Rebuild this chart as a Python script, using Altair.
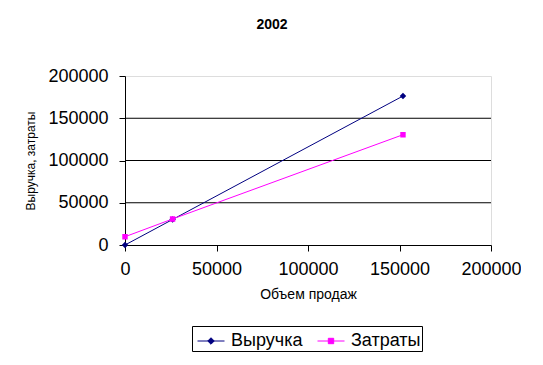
import altair as alt
import pandas as pd

series_names = ["Выручка", "Затраты"]
volume = [0, 26000, 151900]
revenue = [0, 30200, 176300]
costs = [9800, 30800, 130500]
grid_values = [50000, 100000, 150000]
axis_ticks = [0, 50000, 100000, 150000, 200000]

rows = []
for xv, yv in zip(volume, revenue):
    rows.append({"x": xv, "y": yv, "s": series_names[0]})
for xv, yv in zip(volume, costs):
    rows.append({"x": xv, "y": yv, "s": series_names[1]})
df = pd.DataFrame(rows)
grid_df = pd.DataFrame({"g": grid_values})

FONT = "Liberation Sans"
colors = ["#000080", "#FF00FF"]
# legend/marker symbols: a line segment (only visible where stroked) plus a filled marker
shapes = [
    "M-1,0H1M0,-0.24L0.24,0L0,0.24L-0.24,0Z",
    "M-1,0H1M-0.2,-0.2H0.2V0.2H-0.2Z",
]

xenc = alt.X("x:Q", scale=alt.Scale(domain=[0, 200000], nice=False),
             axis=alt.Axis(values=axis_ticks, title="Объем продаж", grid=False,
                           labelFontSize=18, titleFontSize=14, titleFontWeight="normal",
                           labelPadding=9, titlePadding=9, tickSize=6,
                           domainColor="black", tickColor="black", labelColor="black",
                           titleColor="black", labelFont=FONT, titleFont=FONT,
                           labelFlush=False, format="d"))
yenc = alt.Y("y:Q", scale=alt.Scale(domain=[0, 200000], nice=False),
             axis=alt.Axis(values=axis_ticks, title="Выручка, затраты", grid=False,
                           labelFontSize=18, titleFontSize=12, titleFontWeight="normal",
                           labelPadding=11, titlePadding=10, tickSize=6,
                           domainColor="black", tickColor="black", labelColor="black",
                           titleColor="black", labelFont=FONT, titleFont=FONT,
                           labelFlush=False, format="d"))

legend = alt.Legend(title=None, orient="none", legendX=67, legendY=250,
                    direction="horizontal", strokeColor="black", padding=1,
                    labelFontSize=18, labelFont=FONT, labelColor="black",
                    symbolSize=729, symbolStrokeWidth=1, symbolOffset=4,
                    columnPadding=10, labelOffset=6)

grid = alt.Chart(grid_df).mark_rule(color="black", strokeWidth=1).encode(
    y=alt.Y("g:Q", scale=alt.Scale(domain=[0, 200000], nice=False))
)

line = alt.Chart(df).mark_line(strokeWidth=1).encode(
    x=xenc, y=yenc,
    stroke=alt.Stroke("s:N", scale=alt.Scale(domain=series_names, range=colors), legend=legend),
)
pts = alt.Chart(df).mark_point(filled=True, size=729, opacity=1, strokeWidth=0).encode(
    x=xenc, y=yenc,
    fill=alt.Fill("s:N", scale=alt.Scale(domain=series_names, range=colors), legend=legend),
    shape=alt.Shape("s:N", scale=alt.Scale(domain=series_names, range=shapes), legend=legend),
)

chart = alt.layer(grid, line, pts).properties(
    width=366, height=169,
    autosize=alt.AutoSizeParams(type="none"),
    padding={"left": 117, "top": 68, "right": 30, "bottom": 112},
    title=alt.TitleParams("2002", fontSize=14, fontWeight="bold", font=FONT,
                          color="black", anchor="middle", dx=-36, offset=35),
).configure_view(fill="#C0C0C0", stroke="#808080", strokeWidth=1).configure(background="white")

chart.save("out.html", embed_options={"renderer": "svg", "actions": False})
